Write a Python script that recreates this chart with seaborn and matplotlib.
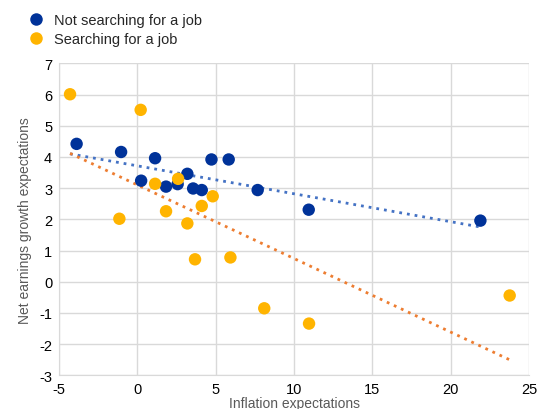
import numpy as np
import pandas as pd
import seaborn as sns
import matplotlib.pyplot as plt
from matplotlib.lines import Line2D

# Not searching for a job
not_x = [-3.88, -1.04, 1.13, 0.24, 1.83, 2.57, 3.19, 3.56, 4.11, 4.73, 5.83, 7.68, 10.94, 21.9]
not_y = [4.42, 4.16, 3.96, 3.24, 3.05, 3.13, 3.46, 2.99, 2.94, 3.92, 3.92, 2.94, 2.31, 1.96]

# Searching for a job
srch_x = [-4.3, 0.21, -1.15, 1.13, 2.6, 1.83, 3.19, 4.11, 4.81, 3.68, 5.94, 8.1, 10.96, 23.77]
srch_y = [6.01, 5.51, 2.02, 3.14, 3.30, 2.26, 1.87, 2.43, 2.74, 0.72, 0.78, -0.85, -1.34, -0.44]

labels = ["Not searching for a job", "Searching for a job"]
colors = {"Not searching for a job": "#003299", "Searching for a job": "#FFB400"}
trend_colors = {"Not searching for a job": "#4472C4", "Searching for a job": "#ED7D31"}

df = pd.DataFrame({
    "x": not_x + srch_x,
    "y": not_y + srch_y,
    "group": [labels[0]] * len(not_x) + [labels[1]] * len(srch_x),
})

sns.set_style("white")
plt.rcParams["font.family"] = ["Liberation Sans", "DejaVu Sans"]
plt.rcParams["axes.unicode_minus"] = False

fig = plt.figure(figsize=(5.37, 4.10), dpi=100)
ax = fig.add_axes([0.11, 0.082, 0.875, 0.761])

# linear trendlines (dotted), drawn from the overall min x to each series' max x
x_lo = df["x"].min()
for g, sub in df.groupby("group"):
    k, b = np.polyfit(sub["x"], sub["y"], 1)
    xs = np.array([x_lo, sub["x"].max()])
    ax.plot(xs, k * xs + b, color=trend_colors[g], linestyle=(0, (1, 1.8)),
            linewidth=2.0, zorder=2)

sns.scatterplot(data=df, x="x", y="y", hue="group", palette=colors,
                s=80, edgecolor="none", legend=False, ax=ax, zorder=3)

ax.set_xlim(-5, 25)
ax.set_ylim(-3, 7)
ax.set_xticks(range(-5, 26, 5))
ax.set_yticks(range(-3, 8))
ax.grid(True, color="#d9d9d9", linewidth=1)
ax.set_axisbelow(True)
for s in ax.spines.values():
    s.set_visible(False)
ax.spines["bottom"].set_visible(True)
ax.spines["bottom"].set_color("#d9d9d9")
ax.spines["left"].set_visible(True)
ax.spines["left"].set_color("#d9d9d9")
ax.tick_params(length=0, labelsize=10.5, colors="#000000", pad=5)
ax.set_xlabel("Inflation expectations", fontsize=10, color="#595959", labelpad=0)
ax.set_ylabel("Net earnings growth expectations", fontsize=10, color="#595959", labelpad=5)

handles = [Line2D([], [], marker="o", linestyle="none", markersize=9,
                  markerfacecolor=colors[l], markeredgecolor="none") for l in labels]
fig.legend(handles, labels, loc="upper left", bbox_to_anchor=(0.02, 0.99),
           frameon=False, fontsize=10.5, handletextpad=0.3, labelspacing=0.35,
           borderaxespad=0.3)

fig.savefig("out.png", dpi=100)
